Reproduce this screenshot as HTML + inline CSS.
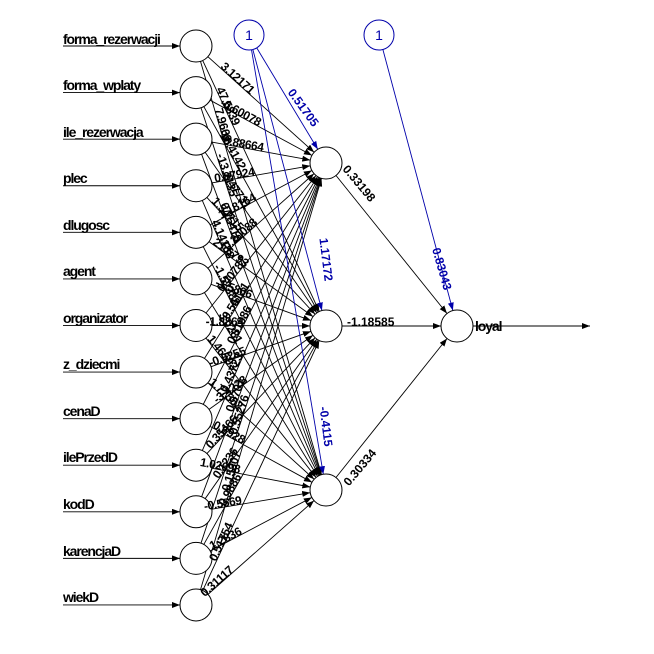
<!DOCTYPE html>
<html><head><meta charset="utf-8"><style>
html,body{margin:0;padding:0;background:#fff;}
svg{display:block;}
text{font-family:"Liberation Sans",Arial,sans-serif;}
.in{font-size:14px;font-weight:bold;letter-spacing:-1.1px;}
.w{font-size:12px;font-weight:bold;letter-spacing:-0.4px;}
</style></head><body>
<svg id="s" width="654" height="654" viewBox="0 0 654 654" xmlns="http://www.w3.org/2000/svg">
<defs>
<marker id="a" markerWidth="8" markerHeight="6" refX="8" refY="3" orient="auto" markerUnits="userSpaceOnUse"><path d="M0,0 L8,3 L0,6z" fill="#000"/></marker>
<marker id="b" markerWidth="8" markerHeight="6" refX="8" refY="3" orient="auto" markerUnits="userSpaceOnUse"><path d="M0,0 L8,3 L0,6z" fill="#0000aa"/></marker>
</defs>
<g id="lines" stroke="#000" stroke-width="0.9" fill="none"></g>
<g id="nodes" fill="#fff" stroke="#000" stroke-width="1"></g>
<g class="in" fill="#000">
<text x="63" y="44">forma_rezerwacji</text>
<text x="63" y="90">forma_wplaty</text>
<text x="63" y="137">ile_rezerwacja</text>
<text x="63" y="183">plec</text>
<text x="63" y="230">dlugosc</text>
<text x="63" y="276">agent</text>
<text x="63" y="323">organizator</text>
<text x="63" y="369">z_dziecmi</text>
<text x="63" y="416">cenaD</text>
<text x="63" y="462">ilePrzedD</text>
<text x="63" y="509">kodD</text>
<text x="63" y="556">karencjaD</text>
<text x="63" y="602">wiekD</text>
<text x="475" y="331">loyal</text>
</g>
<g class="w" fill="#000" id="wl">
<text>3.12171</text><text>-0.60078</text><text>0.88664</text><text>0.87924</text><text>1.18164</text><text>0.20088</text><text>0.40787</text><text>0.55131</text><text>0.51986</text><text>0.43723</text><text>0.9701</text><text>0.55276</text><text>0.15307</text>
<text>47.5839</text><text>-10.4142</text><text>-3.47731</text><text>1.54715</text><text>21.6793</text><text>-1.5806</text><text>-1.8864</text><text>-0.5255</text><text>-3.4228</text><text>0.35466</text><text>0.1236</text><text>-0.9886</text><text>0.51754</text>
<text>7.9669</text><text>-13.7135</text><text>0.25418</text><text>4.14188</text><text>-1.52388</text><text>3.0281</text><text>1.46593</text><text>1.77552</text><text>0.6928</text><text>1.02698</text><text>-0.5569</text><text>1.2836</text><text>0.31117</text>
</g>
<g font-size="12" font-weight="bold" fill="#000">
<text transform="translate(356,186) rotate(50)" text-anchor="middle">0.33198</text>
<text x="347" y="326">-1.18585</text>
<text transform="translate(363,470) rotate(-50)" text-anchor="middle">0.30334</text>
</g>
<g font-size="12" font-weight="bold" fill="#0000aa">
<text transform="translate(300,110) rotate(54)" text-anchor="middle">0.51705</text>
<text transform="translate(322,260) rotate(83)" text-anchor="middle">1.17172</text>
<text transform="translate(322,427) rotate(83)" text-anchor="middle">-0.4115</text>
<text transform="translate(438,270) rotate(74)" text-anchor="middle">0.83043</text>
</g>
<g fill="none" stroke="#0000aa"><circle cx="249" cy="35" r="15"/><circle cx="379" cy="35" r="15"/></g>
<g font-size="14" fill="#0000aa" text-anchor="middle"><text x="249" y="40">1</text><text x="379" y="40">1</text></g>
</svg>
<script>
var NS="http://www.w3.org/2000/svg";
var L=document.getElementById('lines'),N=document.getElementById('nodes');
var iy=[];for(var i=0;i<13;i++)iy.push(46+i*46.58);
var H=[[326,163],[326,326],[326,490]],O=[457,326],R=16;
function ln(x1,y1,x2,y2,r1,r2,col,mk){var dx=x2-x1,dy=y2-y1,d=Math.hypot(dx,dy);
var l=document.createElementNS(NS,'line');l.setAttribute('x1',x1+dx/d*r1);l.setAttribute('y1',y1+dy/d*r1);
l.setAttribute('x2',x2-dx/d*r2);l.setAttribute('y2',y2-dy/d*r2);if(col)l.setAttribute('stroke',col);
l.setAttribute('marker-end','url(#'+mk+')');L.appendChild(l);}
function c(x,y){var e=document.createElementNS(NS,'circle');e.setAttribute('cx',x);e.setAttribute('cy',y);e.setAttribute('r',R);N.appendChild(e);}
var wl=document.getElementById('wl').children,k=0;
var tt=[0.3,0.22,0.18];
for(var h=0;h<3;h++)for(var i=0;i<13;i++){ln(196,iy[i],H[h][0],H[h][1],R,R,null,'a');
if(k<wl.length){var dx=H[h][0]-196,dy=H[h][1]-iy[i],t=tt[h]+0.03*(i%3);
var x=196+dx*t,y=iy[i]+dy*t,ang=Math.atan2(dy,dx)*180/Math.PI;
wl[k].setAttribute('text-anchor','middle');wl[k].setAttribute('transform','translate('+x+','+y+') rotate('+ang+')');}
k++;}
for(var i=0;i<13;i++){ln(63,iy[i],196,iy[i],0,R,null,'a');c(196,iy[i]);}
for(var h=0;h<3;h++){ln(H[h][0],H[h][1],O[0],O[1],R,R,null,'a');ln(249,35,H[h][0],H[h][1],15,R,'#0000aa','b');c(H[h][0],H[h][1]);}
ln(379,35,O[0],O[1],15,R,'#0000aa','b');ln(O[0],O[1],590,326,R,0,null,'a');c(O[0],O[1]);
</script>
</body></html>
